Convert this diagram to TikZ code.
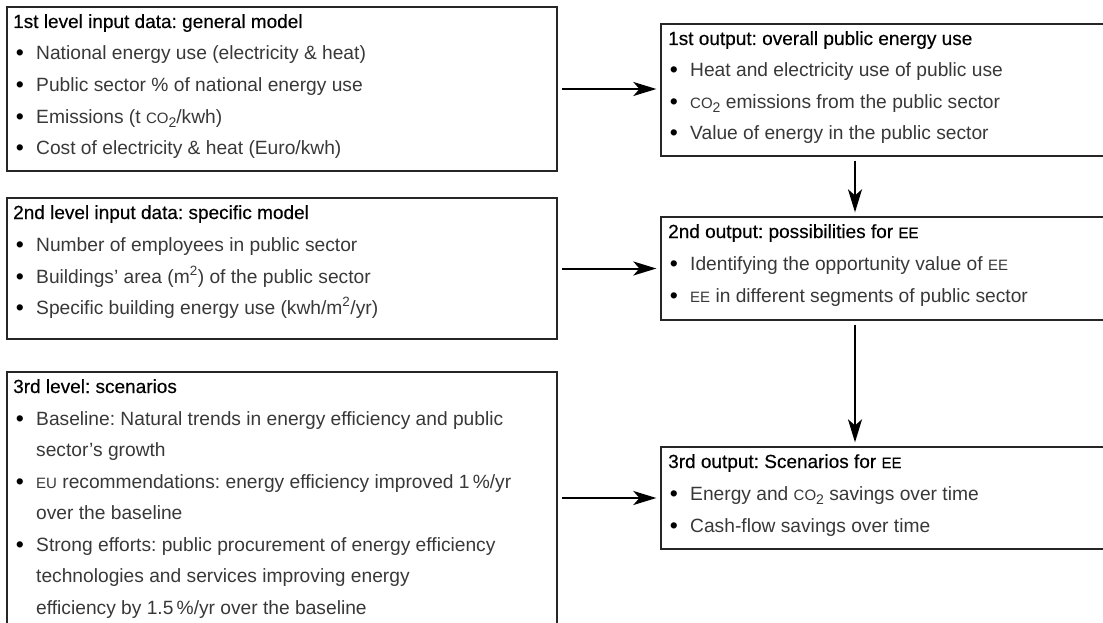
\documentclass[tikz,border=0pt]{standalone}
\usepackage{fontspec}
\setmainfont{Liberation Sans}
\newfontface\ttlfont{Liberation Sans}[FakeBold=0.35]
\usetikzlibrary{arrows.meta}
\newcommand\smc[1]{{\fontsize{15}{15}\selectfont #1}}
\newcommand\cotwo{\smc{CO}\raisebox{-4pt}{\fontsize{14}{14}\selectfont 2}}
\frenchspacing
\begin{document}
\frenchspacing
\begin{tikzpicture}[x=1pt,y=-1pt,
  box/.style={draw=black!85, line width=1.3pt, inner sep=0pt, rectangle},
  ttl/.style={anchor=base west, inner sep=0pt, font=\ttlfont\fontsize{19}{19}\selectfont\frenchspacing, text=black},
  itm/.style={anchor=base west, inner sep=0pt, font=\fontsize{19.2}{19}\selectfont\frenchspacing, text=black!78},
  bul/.style={anchor=base, inner sep=0pt, font=\fontsize{23}{19}\selectfont, text=black},
  arr/.style={line width=2pt, -{Stealth[length=23pt,width=14pt,inset=6pt]}, shorten <=4pt, shorten >=4pt}]
\useasboundingbox (0,0) rectangle (1103,623);
\clip (0,0) rectangle (1103,623);

% boxes
\node[box, minimum width=550pt, minimum height=164pt] (b1) at (282,89) {};
\node[box, minimum width=550pt, minimum height=141pt] (b2) at (282,268.5) {};
\node[box, minimum width=550pt, minimum height=258pt] (b3) at (282,501) {};
\node[box, minimum width=454pt, minimum height=132pt] (r1) at (888,90) {};
\node[box, minimum width=454pt, minimum height=103pt] (r2) at (888,268.5) {};
\node[box, minimum width=454pt, minimum height=102pt] (r3) at (888,498) {};

% box 1
\node[ttl] (b1t) at (13,28) {1st level input data: general model};
\node[bul] (b1d1) at (20,61) {•}; \node[itm] (b1i1) at (36,60) {National energy use (electricity \& heat)};
\node[bul] (b1d2) at (20,93) {•}; \node[itm] (b1i2) at (36,92) {Public sector \% of national energy use};
\node[bul] (b1d3) at (20,125) {•}; \node[itm] (b1i3) at (36,124) {Emissions (t \cotwo/kwh)};
\node[bul] (b1d4) at (20,156) {•}; \node[itm] (b1i4) at (36,155) {Cost of electricity \& heat (Euro/kwh)};

% box 2
\node[ttl] (b2t) at (13,219) {2nd level input data: specific model};
\node[bul] (b2d1) at (20,252) {•}; \node[itm] (b2i1) at (36,251) {Number of employees in public sector};
\node[bul] (b2d2) at (20,284) {•}; \node[itm] (b2i2) at (36,283) {Buildings’ area (m\textsuperscript{2}) of the public sector};
\node[bul] (b2d3) at (20,315) {•}; \node[itm] (b2i3) at (36,314) {Specific building energy use (kwh/m\textsuperscript{2}/yr)};

% box 3
\node[ttl] (b3t) at (13,393) {3rd level: scenarios};
\node[bul] (b3d1) at (20,426) {•}; \node[itm] (b3i1) at (36,425) {Baseline: Natural trends in energy efficiency and public};
\node[itm] (b3i1b) at (36,456.5) {sector’s growth};
\node[bul] (b3d2) at (20,489) {•}; \node[itm] (b3i2) at (36,488) {\smc{EU} recommendations: energy efficiency improved 1\,\%/yr};
\node[itm] (b3i2b) at (36,519.5) {over the baseline};
\node[bul] (b3d3) at (20,552) {•}; \node[itm] (b3i3) at (36,551) {Strong efforts: public procurement of energy efficiency};
\node[itm] (b3i3b) at (36,582.5) {technologies and services improving energy};
\node[itm] (b3i3c) at (36,614) {efficiency by 1.5\,\%/yr over the baseline};

% right box 1
\node[ttl] (r1t) at (668,45) {1st output: overall public energy use};
\node[bul] (r1d1) at (674,78) {•}; \node[itm] (r1i1) at (690,77) {Heat and electricity use of public use};
\node[bul] (r1d2) at (674,110) {•}; \node[itm] (r1i2) at (690,109) {\cotwo{} emissions from the public sector};
\node[bul] (r1d3) at (674,141) {•}; \node[itm] (r1i3) at (690,140) {Value of energy in the public sector};

% right box 2
\node[ttl] (r2t) at (668,238) {2nd output: possibilities for \smc{EE}};
\node[bul] (r2d1) at (674,271) {•}; \node[itm] (r2i1) at (690,270) {Identifying the opportunity value of \smc{EE}};
\node[bul] (r2d2) at (674,303) {•}; \node[itm] (r2i2) at (690,302) {\smc{EE} in different segments of public sector};

% right box 3
\node[ttl] (r3t) at (668,468) {3rd output: Scenarios for \smc{EE}};
\node[bul] (r3d1) at (674,501) {•}; \node[itm] (r3i1) at (690,500) {Energy and \cotwo{} savings over time};
\node[bul] (r3d2) at (674,533) {•}; \node[itm] (r3i2) at (690,532) {Cash-flow savings over time};

% connectors
\coordinate (vx) at (855,0);
\draw[arr] (b1.east) -- (b1.east -| r1.west);
\draw[arr] (b2.east) -- (b2.east -| r2.west);
\draw[arr] (b3.east |- r3.west) -- (r3.west);
\draw[arr] (r1.south -| vx) -- (r2.north -| vx);
\draw[arr] (r2.south -| vx) -- (r3.north -| vx);
\end{tikzpicture}
\end{document}
